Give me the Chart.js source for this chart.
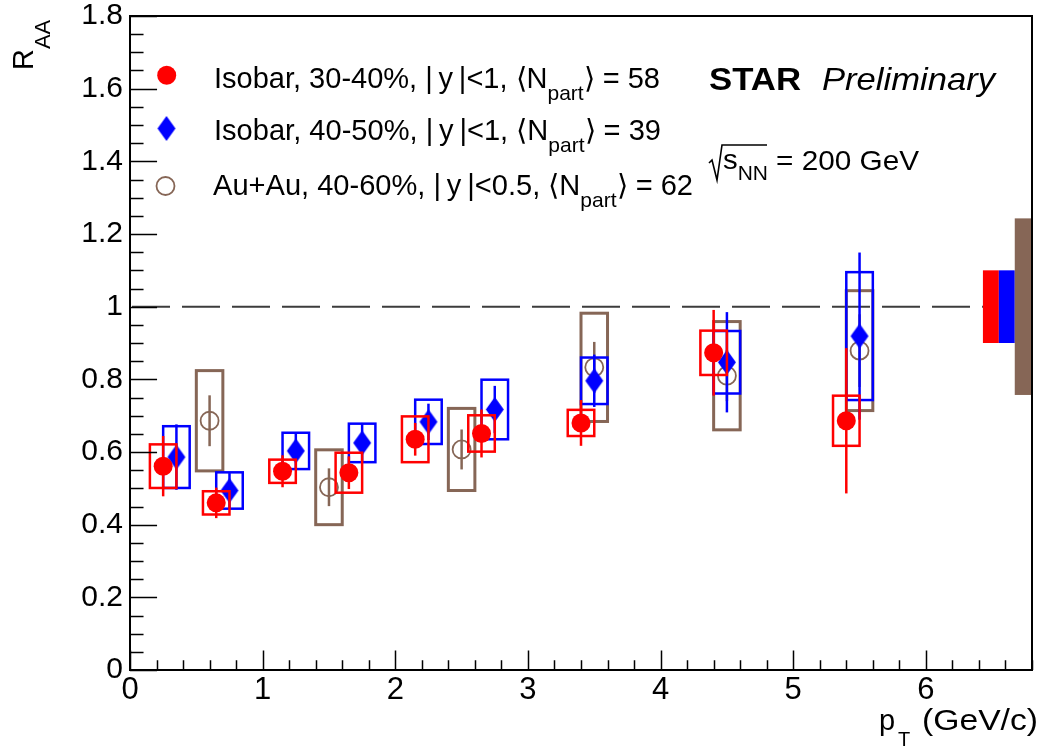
<!DOCTYPE html>
<html><head><meta charset="utf-8">
<script src="https://cdn.jsdelivr.net/npm/chart.js@4.4.0/dist/chart.umd.min.js"></script>
<style>html,body{margin:0;padding:0;background:#fff;overflow:hidden}canvas{display:block}</style>
</head><body>
<canvas id="c" width="1043" height="748"></canvas>
<script>
// ---------- data ----------
const xTickLabels = ["0","1","2","3","4","5","6"];
const yTickLabels = ["0","0.2","0.4","0.6","0.8","1","1.2","1.4","1.6","1.8"];

// Isobar 30-40%
const redX    = [0.25, 0.65, 1.15, 1.65, 2.15, 2.65, 3.40, 4.40, 5.40];
const redY    = [0.561, 0.460, 0.547, 0.543, 0.635, 0.651, 0.680, 0.873, 0.686];
const redStat = [0.083, 0.042, 0.044, 0.045, 0.045, 0.066, 0.063, 0.118, 0.200];
const redSys  = [0.060, 0.032, 0.032, 0.055, 0.063, 0.050, 0.036, 0.061, 0.069];
// Isobar 40-50%
const blueX    = [0.35, 0.75, 1.25, 1.75, 2.25, 2.75, 3.50, 4.50, 5.50];
const blueY    = [0.586, 0.494, 0.603, 0.625, 0.683, 0.717, 0.796, 0.847, 0.919];
const blueStat = [0.090, 0.048, 0.050, 0.055, 0.050, 0.065, 0.072, 0.138, 0.230];
const blueSys  = [0.085, 0.050, 0.050, 0.053, 0.061, 0.082, 0.064, 0.086, 0.176];
// Au+Au 40-60%
const auX    = [0.60, 1.50, 2.50, 3.50, 4.50, 5.50];
const auY    = [0.686, 0.503, 0.607, 0.833, 0.810, 0.879];
const auStat = [0.070, 0.052, 0.055, 0.070, 0.070, 0.100];
const auSys  = [0.138, 0.103, 0.113, 0.149, 0.149, 0.165];
// normalisation uncertainties at unity (red, blue, Au+Au)
const normLeft  = [6.43, 6.55, 6.67];
const normRight = [6.55, 6.67, 6.80];
const normErr   = [0.100, 0.100, 0.243];
const unityLine = 1;

// ---------- style ----------
const C_RED = '#ff0000', C_BLUE = '#0000ff', C_AU = '#866656';
const FONT = "'Liberation Sans', Arial, Helvetica, sans-serif";
const SYS_HW = 0.1;

function diamondImg(w, h, col) {
  const c = document.createElement('canvas');
  c.width = w + 2; c.height = h + 2;
  const g = c.getContext('2d');
  g.fillStyle = col; g.beginPath();
  g.moveTo(c.width/2, 1); g.lineTo(c.width - 1, c.height/2);
  g.lineTo(c.width/2, c.height - 1); g.lineTo(1, c.height/2); g.closePath(); g.fill();
  return c;
}
const blueDiamond = diamondImg(18, 25, C_BLUE);

const series = [
  {x: redX, y: redY, stat: redStat, sys: redSys, col: C_RED, boxW: 2.5},
  {x: blueX, y: blueY, stat: blueStat, sys: blueSys, col: C_BLUE, boxW: 2.5},
  {x: auX, y: auY, stat: auStat, sys: auSys, col: C_AU, boxW: 3}
];
const pts = (xs, ys) => xs.map((v, i) => ({x: v, y: ys[i]}));

function rich(ctx, pieces, x, y, targetW) {
  let w = 0;
  for (const p of pieces) { ctx.font = p.font; p.w = ctx.measureText(p.t).width; w += p.w; }
  const sx = targetW ? targetW / w : 1;
  ctx.save(); ctx.translate(x, y); ctx.scale(sx, 1);
  let cx = 0;
  for (const p of pieces) { ctx.font = p.font; ctx.fillText(p.t, cx, p.dy || 0); cx += p.w; }
  ctx.restore();
}

const rootPlugin = {
  id: 'rootStyle',
  beforeDatasetsDraw(chart) {
    const {ctx, chartArea: a, scales: {x: xs, y: ys}} = chart;
    ctx.save();
    // dashed unity line
    ctx.strokeStyle = '#3c3c3c'; ctx.lineWidth = 2; ctx.setLineDash([38, 12]);
    const yy = ys.getPixelForValue(unityLine);
    ctx.beginPath(); ctx.moveTo(xs.getPixelForValue(0) + 2, yy); ctx.lineTo(xs.getPixelForValue(normLeft[0]), yy); ctx.stroke();
    ctx.setLineDash([]);
    // normalisation boxes
    const cols = [C_RED, C_BLUE, C_AU];
    for (let i = 0; i < normLeft.length; i++) {
      const x0 = xs.getPixelForValue(normLeft[i]), x1 = xs.getPixelForValue(normRight[i]);
      const y0 = ys.getPixelForValue(unityLine + normErr[i]), y1 = ys.getPixelForValue(unityLine - normErr[i]);
      ctx.fillStyle = cols[i]; ctx.fillRect(x0, y0, x1 - x0, y1 - y0);
    }
    ctx.restore();
  },
  beforeDatasetDraw(chart, args) {
    const s = series[args.index];
    const {ctx, scales: {x: xs, y: ys}} = chart;
    ctx.save();
    ctx.strokeStyle = s.col;
    for (let i = 0; i < s.x.length; i++) {
      const x0 = xs.getPixelForValue(s.x[i] - SYS_HW), x1 = xs.getPixelForValue(s.x[i] + SYS_HW);
      const yT = ys.getPixelForValue(s.y[i] + s.sys[i]), yB = ys.getPixelForValue(s.y[i] - s.sys[i]);
      ctx.lineWidth = s.boxW;
      ctx.strokeRect(x0, yT, x1 - x0, yB - yT);
      const px = xs.getPixelForValue(s.x[i]);
      ctx.lineWidth = 2.5;
      ctx.beginPath();
      ctx.moveTo(px, ys.getPixelForValue(s.y[i] + s.stat[i]));
      ctx.lineTo(px, ys.getPixelForValue(s.y[i] - s.stat[i]));
      ctx.stroke();
    }
    ctx.restore();
  },
  afterDraw(chart) {
    const {ctx, chartArea: a, scales: {x: xs, y: ys}} = chart;
    ctx.save();
    // ticks
    ctx.strokeStyle = '#000'; ctx.lineWidth = 1.5;
    const H = a.bottom - a.top, W = a.right - a.left;
    ctx.beginPath();
    for (let k = 0; k <= 36; k++) {
      const v = k * 0.05, py = Math.round(ys.getPixelForValue(v)) + 0.5;
      const len = (k % 4 === 0) ? 0.03 * W : 0.015 * W;
      ctx.moveTo(a.left, py); ctx.lineTo(a.left + len, py);
    }
    for (let k = 0; k <= 34; k++) {
      const v = k * 0.2, px = Math.round(xs.getPixelForValue(v)) + 0.5;
      const len = (k % 5 === 0) ? 0.03 * H : 0.015 * H;
      ctx.moveTo(px, a.bottom); ctx.lineTo(px, a.bottom - len);
    }
    ctx.stroke();
    // frame
    ctx.lineWidth = 2;
    ctx.strokeRect(a.left, a.top, a.right - a.left, a.bottom - a.top);

    ctx.fillStyle = '#000';
    ctx.textBaseline = 'alphabetic'; ctx.textAlign = 'left';
    // legend
    const mainF = `29px ${FONT}`, subF = `21px ${FONT}`;
    ctx.fillStyle = C_RED; ctx.beginPath(); ctx.arc(166.7, 75.3, 9.5, 0, 2 * Math.PI); ctx.fill();
    ctx.drawImage(blueDiamond, 166.5 - blueDiamond.width / 2, 128.5 - blueDiamond.height / 2);
    ctx.strokeStyle = C_AU; ctx.lineWidth = 1.8; ctx.beginPath(); ctx.arc(165.5, 186, 9, 0, 2 * Math.PI); ctx.stroke();
    ctx.fillStyle = '#000';
    const bar = '|', th = '\u2009';
    rich(ctx, [{t: `Isobar, 30-40%, ${bar}${th}y${th}${bar}<1, \u27E8N`, font: mainF}, {t: 'part', font: subF, dy: 12}, {t: '\u27E9 = 58', font: mainF}], 214, 88, 446);
    rich(ctx, [{t: `Isobar, 40-50%, ${bar}${th}y${th}${bar}<1, \u27E8N`, font: mainF}, {t: 'part', font: subF, dy: 12}, {t: '\u27E9 = 39', font: mainF}], 214, 140, 447);
    rich(ctx, [{t: `Au+Au, 40-60%, ${bar}${th}y${th}${bar}<0.5, \u27E8N`, font: mainF}, {t: 'part', font: subF, dy: 12}, {t: '\u27E9 = 62', font: mainF}], 213, 195, 480);
    // STAR Preliminary
    rich(ctx, [{t: 'STAR', font: `bold 32px ${FONT}`}], 709, 90, 92);
    rich(ctx, [{t: 'Preliminary', font: `italic 32px ${FONT}`}], 822, 90, 173);
    // sqrt(s_NN) = 200 GeV
    ctx.strokeStyle = '#000'; ctx.lineWidth = 1.6;
    ctx.beginPath(); ctx.moveTo(709, 163); ctx.lineTo(712, 160); ctx.lineTo(717, 180); ctx.lineTo(722, 145); ctx.lineTo(767, 145); ctx.stroke();
    rich(ctx, [{t: 's', font: `28px ${FONT}`}, {t: 'NN', font: `20px ${FONT}`, dy: 11}], 723, 169, 45);
    rich(ctx, [{t: '= 200 GeV', font: `28px ${FONT}`}], 776, 170, 143);
    // y title
    ctx.save(); ctx.translate(33, 70); ctx.rotate(-Math.PI / 2);
    ctx.font = `29px ${FONT}`; ctx.fillText('R', 0, 0);
    const rw = ctx.measureText('R').width;
    ctx.font = `22px ${FONT}`; ctx.fillText('AA', rw, 17);
    ctx.restore();
    // x title
    ctx.font = `29px ${FONT}`; ctx.fillText('p', 879, 730);
    ctx.font = `20px ${FONT}`; ctx.fillText('T', 898, 746);
    rich(ctx, [{t: '(GeV/c)', font: `29px ${FONT}`}], 922, 730, 116);
    ctx.restore();
  }
};

new Chart(document.getElementById('c'), {
  type: 'scatter',
  data: {
    datasets: [
      {label: 'Isobar, 30-40%', data: pts(redX, redY), pointStyle: 'circle', pointRadius: 9.5,
       backgroundColor: C_RED, borderColor: C_RED, borderWidth: 0},
      {label: 'Isobar, 40-50%', data: pts(blueX, blueY), pointStyle: blueDiamond, pointRadius: 10,
       backgroundColor: C_BLUE, borderColor: C_BLUE},
      {label: 'Au+Au, 40-60%', data: pts(auX, auY), pointStyle: 'circle', pointRadius: 9,
       backgroundColor: 'rgba(0,0,0,0)', borderColor: C_AU, borderWidth: 1.8}
    ]
  },
  options: {
    responsive: false, animation: false, devicePixelRatio: 1,
    layout: {padding: {top: 16, right: 5, left: 0, bottom: 0}},
    plugins: {legend: {display: false}, tooltip: {enabled: false}},
    events: [],
    scales: {
      x: {
        type: 'linear', min: 0, max: 6.8,
        grid: {display: false, drawTicks: false}, border: {display: false},
        ticks: {padding: 2, color: '#000', font: {family: FONT, size: 31}, maxRotation: 0, autoSkip: false,
                callback: (v) => { const i = xTickLabels.findIndex(t => Math.abs(parseFloat(t) - v) < 1e-6); return i >= 0 ? xTickLabels[i] : ''; }},
        afterBuildTicks: (s) => { s.ticks = xTickLabels.map(t => ({value: parseFloat(t)})).concat([{value: s.max}]); },
        afterFit: (s) => { s.height = 78; s.paddingLeft = 0; s.paddingRight = 0; }
      },
      y: {
        type: 'linear', min: 0, max: 1.8,
        grid: {display: false, drawTicks: false}, border: {display: false},
        ticks: {padding: 7, color: '#000', font: {family: FONT, size: 30, lineHeight: 1.0},
                callback: (v) => { const i = yTickLabels.findIndex(t => Math.abs(parseFloat(t) - v) < 1e-6); return i >= 0 ? yTickLabels[i] : ''; }},
        afterBuildTicks: (s) => { s.ticks = yTickLabels.map(t => ({value: parseFloat(t)})); },
        afterFit: (s) => { s.width = 130; s.paddingTop = 0; s.paddingBottom = 0; }
      }
    }
  },
  plugins: [rootPlugin]
});
</script>
</body></html>
